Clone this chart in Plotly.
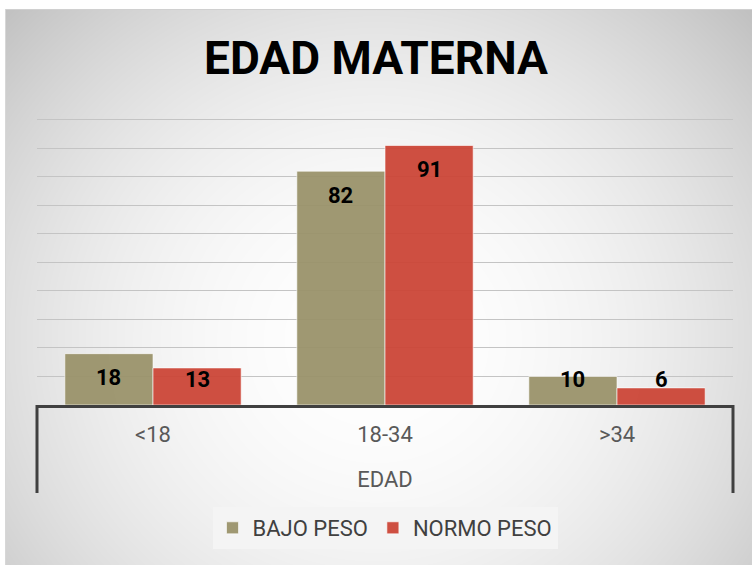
import base64
import struct
import zlib

import numpy as np
import plotly.graph_objects as go

# ---------------- data ----------------
categories = ["<18", "18-34", ">34"]
bajo_peso = [18, 82, 10]
normo_peso = [13, 91, 6]
series_names = ["BAJO PESO", "NORMO PESO"]
y_ticks = list(range(0, 101, 10))

# ---------------- style ----------------
W, H = 752, 565
ML, MR, MT, MB = 37, 19, 117, 160
PW, PH = W - ML - MR, H - MT - MB
FONT = "Roboto, Arial, sans-serif"
OLIVE = "rgba(154,146,106,0.95)"
RED = "rgba(203,70,55,0.95)"
AXIS = "#404040"
BARGAP = 0.24


def gradient_png():
    yy, xx = np.mgrid[0:H, 0:W].astype(float)
    cx, cy, rx, ry = 376.0, 340.0, 350.0, 330.0
    d = np.sqrt(((xx - cx) / rx) ** 2 + ((yy - cy) / ry) ** 2)
    g = 255.0 - 29.0 * d ** 2.0
    g = np.clip(g, 188, 255)
    g[(xx < 5) | (yy < 9)] = 255
    g[(yy == 9) & (xx >= 5)] = 208
    g[(xx == 5) & (yy >= 9)] = 215
    img = g.astype(np.uint8)
    raw = b"".join(b"\x00" + img[r].tobytes() for r in range(H))

    def chunk(tag, data):
        c = struct.pack(">I", len(data)) + tag + data
        return c + struct.pack(">I", zlib.crc32(tag + data) & 0xFFFFFFFF)

    png = b"\x89PNG\r\n\x1a\n"
    png += chunk(b"IHDR", struct.pack(">IIBBBBB", W, H, 8, 0, 0, 0, 0))
    png += chunk(b"IDAT", zlib.compress(raw, 9))
    png += chunk(b"IEND", b"")
    return "data:image/png;base64," + base64.b64encode(png).decode()


fig = go.Figure()
fig.add_trace(go.Bar(x=categories, y=bajo_peso, name=series_names[0],
                     marker=dict(color=OLIVE, line=dict(color="rgba(255,255,255,0.6)", width=1))))
fig.add_trace(go.Bar(x=categories, y=normo_peso, name=series_names[1],
                     marker=dict(color=RED, line=dict(color="rgba(255,255,255,0.6)", width=1))))

# data labels
half = (1 - BARGAP) / 4
annotations = []
for k, vals in enumerate([bajo_peso, normo_peso]):
    off = -half if k == 0 else half
    for i, v in enumerate(vals):
        annotations.append(dict(
            x=i + off, y=max(v - 8.5, 8.8), xref="x", yref="y", text=f"<b>{v}</b>",
            showarrow=False, font=dict(family=FONT, size=22, color="#000000"),
            xanchor="center", yanchor="middle"))

shapes = []
for xp in (0, 1):
    shapes.append(dict(type="line", xref="paper", yref="paper", x0=xp, x1=xp,
                       y0=0, y1=-(88 / PH), line=dict(color=AXIS, width=3)))

fig.update_layout(
    width=W, height=H,
    margin=dict(l=ML, r=MR, t=MT, b=MB),
    paper_bgcolor="white", plot_bgcolor="rgba(0,0,0,0)",
    barmode="group", bargap=BARGAP, bargroupgap=0,
    title=dict(text="<b>EDAD MATERNA</b>", x=0.5, xanchor="center",
               y=1 - 58 / H, yanchor="middle",
               font=dict(family=FONT, size=46, color="#000000")),
    xaxis=dict(showline=True, linecolor=AXIS, linewidth=3, ticks="",
               tickfont=dict(family=FONT, size=22, color="#595959"),
               ticklabelstandoff=8,
               title=dict(text="EDAD", font=dict(family=FONT, size=22, color="#595959"), standoff=26),
               showgrid=False, zeroline=False),
    yaxis=dict(range=[0, 101], tickvals=y_ticks, showticklabels=False,
               showgrid=True, gridcolor="#c4c4c4", gridwidth=1, zeroline=False, showline=False),
    legend=dict(orientation="h", x=0.5, xanchor="center", y=-(528 - 405) / PH, yanchor="middle",
                bgcolor="#f4f4f4", font=dict(family=FONT, size=22, color="#404040"),
                traceorder="normal", itemwidth=30),
    annotations=annotations,
    shapes=shapes,
    images=[dict(source=gradient_png(), xref="paper", yref="paper",
                 x=-ML / PW, y=1 + MT / PH, sizex=W / PW, sizey=H / PH,
                 xanchor="left", yanchor="top", sizing="stretch", layer="below")],
)

fig.write_html("out.html", config={"displayModeBar": False},
               post_script="document.body.style.margin='0';document.body.style.padding='0';")
